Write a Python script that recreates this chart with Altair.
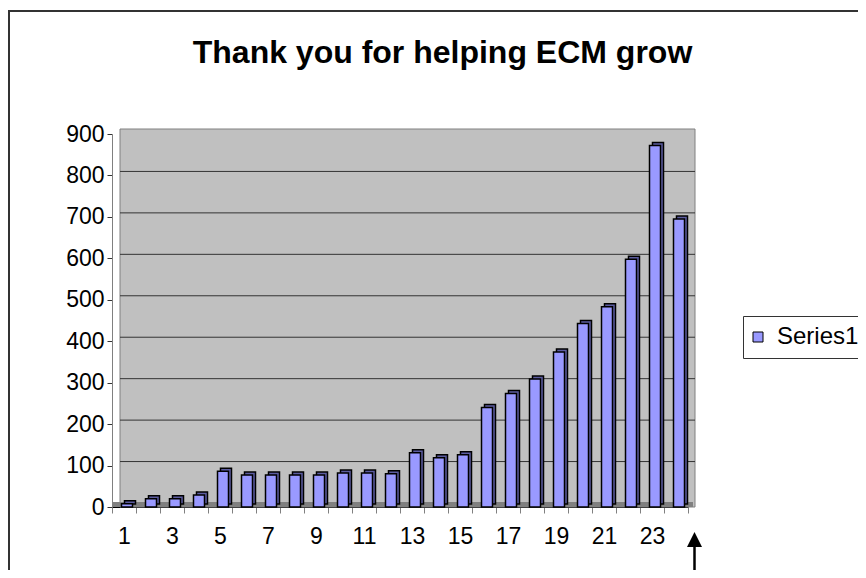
import altair as alt
import pandas as pd

# ---- data ----
categories = list(range(1, 25))
values = [8, 20, 20, 29, 86, 77, 77, 77, 77, 82, 82, 80,
          131, 119, 126, 240, 274, 309, 374, 443, 483, 598, 872, 695]
series_name = "Series1"
y_ticks = [0, 100, 200, 300, 400, 500, 600, 700, 800, 900]
grid_values = [100, 200, 300, 400, 500, 600, 700, 800]
title_text = "Thank you for helping ECM grow"

df = pd.DataFrame({"cat": categories, "value": values, "series": series_name})
grid_df = pd.DataFrame({"value": grid_values})
one = alt.Data(values=[{"k": 1}])

W, H = 576, 373
FONT = "Liberation Sans"
FS = 23

yscale = alt.Scale(domain=[0, 900], nice=False)
xscale = alt.Scale(paddingInner=0, paddingOuter=0)

x_axis = alt.Axis(
    title=None, labelAngle=0, tickBand="extent",
    labelExpr="datum.value % 2 == 1 ? datum.label : ''",
    labelOverlap=False, domainColor="#000000", tickColor="#808080",
    tickSize=6, labelFontSize=FS, labelPadding=12, labelColor="black",
    labelFont=FONT,
)
y_axis = alt.Axis(
    title=None, values=y_ticks, grid=False, domainColor="#808080",
    tickColor="#333333", tickSize=5, labelPadding=3, labelFontSize=FS,
    labelColor="black", labelFont=FONT,
)

wall = alt.Chart(one).mark_rect(fill="#C0C0C0", stroke="#808080", strokeWidth=1).encode(
    x=alt.value(8), x2=alt.value(583), y=alt.value(-5), y2=alt.value(H)
)
floor = alt.Chart(one).mark_rect(fill="#808080").encode(
    x=alt.value(0), x2=alt.value(581), y=alt.value(H - 5), y2=alt.value(H)
)
grid = alt.Chart(grid_df).mark_rule(color="#333333", strokeWidth=1, yOffset=-4).encode(
    y=alt.Y("value:Q", scale=yscale, axis=y_axis),
    x=alt.value(8), x2=alt.value(583),
)
depth = alt.Chart(df).mark_bar(
    fill="#5C5CA0", stroke="black", strokeWidth=1.5, size=11, xOffset=6, yOffset=-3
).encode(
    x=alt.X("cat:O", scale=xscale, axis=x_axis),
    y=alt.Y("value:Q", scale=yscale, axis=y_axis),
)
front = alt.Chart(df).mark_bar(
    stroke="black", strokeWidth=1.5, size=11, xOffset=3
).encode(
    x=alt.X("cat:O", scale=xscale, axis=x_axis),
    y=alt.Y("value:Q", scale=yscale, axis=y_axis),
    color=alt.Color(
        "series:N",
        scale=alt.Scale(range=["#9999FF"]),
        legend=alt.Legend(
            title=None, orient="none", legendX=631, legendY=182,
            strokeColor="#333333", fillColor="white", padding=9,
            symbolType="square", symbolSize=100, symbolStrokeColor="black",
            symbolStrokeWidth=1, symbolOffset=-6, labelFontSize=24,
            labelFont=FONT, labelColor="black", labelOffset=7,
        ),
    ),
)
title = alt.Chart(one).mark_text(
    text=title_text, fontSize=32, fontWeight="bold", font=FONT,
    align="center", baseline="alphabetic", color="black",
).encode(x=alt.value(330.5), y=alt.value(-71))

border_top = alt.Chart(one).mark_rule(color="#333333", strokeWidth=2).encode(
    x=alt.value(-104), x2=alt.value(760), y=alt.value(-123)
)
border_left = alt.Chart(one).mark_rule(color="#333333", strokeWidth=2).encode(
    x=alt.value(-103), y=alt.value(-123), y2=alt.value(460)
)
arrow_line = alt.Chart(one).mark_rule(color="black", strokeWidth=2.5).encode(
    x=alt.value(582.5), y=alt.value(412), y2=alt.value(460)
)
arrow_head = alt.Chart(one).mark_point(
    shape="M0,-1L1,1L-1,1Z", filled=True, fill="black", stroke="black",
    strokeWidth=0, size=225, opacity=1,
).encode(x=alt.value(582.5), y=alt.value(405.5))

chart = alt.layer(
    wall, floor, grid, depth, front, title,
    border_top, border_left, arrow_line, arrow_head,
).properties(
    width=W, height=H,
    autosize=alt.AutoSizeParams(type="none"),
    padding={"left": 104, "top": 126, "right": 170, "bottom": 63},
    background="white",
).configure_view(stroke=None)

chart.save("out.html", embed_options={"renderer": "svg", "actions": False})
